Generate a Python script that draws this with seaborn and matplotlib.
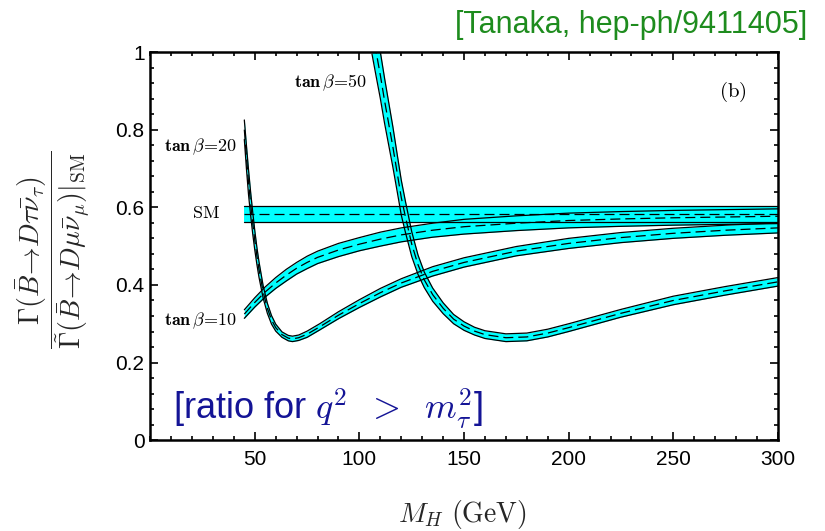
import matplotlib
matplotlib.use("Agg")
import matplotlib.pyplot as plt
from matplotlib.ticker import MultipleLocator, FixedLocator, FixedFormatter
import seaborn as sns
import pandas as pd

# Standard Model ratio (flat band)
m_sm = [45, 300]
r_sm = [0.583, 0.583]
hw_sm = [0.021, 0.021]

# tan(beta) = 10
m_10 = [45, 50, 55, 60, 65, 70, 75, 80, 90, 100, 110, 120, 135, 150, 175,
        200, 225, 250, 275, 300]
r_10 = [0.325, 0.355, 0.382, 0.405, 0.425, 0.443, 0.458, 0.471, 0.49, 0.505,
        0.518, 0.529, 0.541, 0.55, 0.559, 0.566, 0.57, 0.573, 0.575, 0.577]
hw_10 = [0.011, 0.012, 0.013, 0.014, 0.015, 0.015, 0.016, 0.016, 0.017, 0.017,
         0.018, 0.018, 0.018, 0.019, 0.019, 0.019, 0.019, 0.019, 0.019, 0.019]

# tan(beta) = 20
m_20 = [45, 46, 47, 48, 49, 50, 51, 52, 54, 56, 58, 60, 63, 66, 68, 71, 75,
        81, 90, 100, 110, 120, 135, 150, 175, 200, 225, 250, 275, 300]
r_20 = [0.80, 0.73, 0.665, 0.61, 0.56, 0.515, 0.475, 0.44, 0.382, 0.34,
        0.31, 0.29, 0.272, 0.263, 0.261, 0.264, 0.273, 0.292, 0.322, 0.352,
        0.38, 0.405, 0.435, 0.458, 0.487, 0.507, 0.522, 0.533, 0.541, 0.547]
hw_20 = [0.025, 0.03, 0.032, 0.03, 0.028, 0.025, 0.022, 0.02, 0.016, 0.013,
         0.011, 0.009, 0.007, 0.007, 0.007, 0.007, 0.008, 0.008, 0.009, 0.01,
         0.011, 0.011, 0.012, 0.012, 0.012, 0.013, 0.013, 0.013, 0.013, 0.013]

# tan(beta) = 50
m_50 = [106, 108, 110, 112, 114, 116, 118, 120, 122, 125, 128, 131, 135, 140,
        145, 150, 155, 160, 170, 180, 190, 200, 225, 250, 275, 300]
r_50 = [1.06, 1.0, 0.94, 0.875, 0.815, 0.755, 0.69, 0.625, 0.575, 0.505,
        0.452, 0.413, 0.375, 0.34, 0.312, 0.294, 0.281, 0.272, 0.264, 0.266,
        0.276, 0.29, 0.327, 0.36, 0.385, 0.408]
hw_50 = [0.065, 0.063, 0.06, 0.058, 0.055, 0.052, 0.048, 0.045, 0.04, 0.032,
         0.025, 0.02, 0.017, 0.014, 0.012, 0.011, 0.01, 0.01, 0.01, 0.01,
         0.01, 0.01, 0.01, 0.011, 0.011, 0.011]

y_ticks = [0, 0.2, 0.4, 0.6, 0.8, 1.0]
y_tick_labels = ["0", "0.2", "0.4", "0.6", "0.8", "1"]
x_ticks = [50, 100, 150, 200, 250, 300]
x_tick_labels = ["50", "100", "150", "200", "250", "300"]

sns.set_theme(style="ticks")
plt.rcParams["font.family"] = ["Liberation Sans", "DejaVu Sans"]
plt.rcParams["mathtext.fontset"] = "cm"

fig = plt.figure(figsize=(8.25, 5.31), dpi=100)
ax = fig.add_axes([0.182, 0.171, 0.761, 0.731])

curves = [
    (m_sm, r_sm, hw_sm),
    (m_10, r_10, hw_10),
    (m_20, r_20, hw_20),
    (m_50, r_50, hw_50),
]

frames = []
for m, r, hw in curves:
    df = pd.DataFrame({"M": m, "r": r, "hw": hw})
    df["lo"] = df["r"] - df["hw"]
    df["hi"] = df["r"] + df["hw"]
    frames.append(df)

# cyan uncertainty bands first, so every edge line stays visible on top
for df in frames:
    ax.fill_between(df["M"], df["lo"], df["hi"], color="#00ffff", lw=0,
                    zorder=1)

for df in frames:
    sns.lineplot(data=df, x="M", y="lo", ax=ax, color="black", lw=0.9,
                 zorder=3)
    sns.lineplot(data=df, x="M", y="hi", ax=ax, color="black", lw=0.9,
                 zorder=3)
    sns.lineplot(data=df, x="M", y="r", ax=ax, color="black", lw=0.9,
                 linestyle=(0, (8, 4)), zorder=3)

ax.set_xlim(0, 300)
ax.set_ylim(0, 1)
ax.xaxis.set_major_locator(FixedLocator(x_ticks))
ax.xaxis.set_major_formatter(FixedFormatter(x_tick_labels))
ax.xaxis.set_minor_locator(MultipleLocator(10))
ax.yaxis.set_major_locator(FixedLocator(y_ticks))
ax.yaxis.set_major_formatter(FixedFormatter(y_tick_labels))
ax.yaxis.set_minor_locator(MultipleLocator(0.04))
ax.tick_params(which="both", direction="in", top=True, right=True,
               colors="black", labelsize=15, width=1.2)
ax.tick_params(which="major", length=6)
ax.tick_params(which="minor", length=3)
ax.tick_params(axis="x", which="major", pad=7)
ax.tick_params(axis="y", which="major", pad=4)
for sp in ax.spines.values():
    sp.set_visible(True)
    sp.set_linewidth(1.8)
    sp.set_color("black")

ax.set_xlabel(r"$M_H\ (\mathrm{GeV})$", fontsize=20)
ax.xaxis.set_label_coords(0.497, -0.15)
ax.set_ylabel(r"$\dfrac{\Gamma(\bar{B}\!\to\! D\tau\bar{\nu}_\tau)}"
              r"{\tilde{\Gamma}(\bar{B}\!\to\! D\mu\bar{\nu}_\mu)|_{\mathrm{SM}}}$",
              fontsize=20)
ax.yaxis.set_label_coords(-0.092, 0.49)

lab = dict(fontsize=13, color="black", va="center")
ax.text(103.7, 0.92, r"$\mathbf{tan}\,\beta\!=\!50$", ha="right", **lab)
ax.text(41.6, 0.755, r"$\mathbf{tan}\,\beta\!=\!20$", ha="right", **lab)
ax.text(26.5, 0.585, r"$\mathrm{SM}$", ha="center", **lab)
ax.text(41.6, 0.309, r"$\mathbf{tan}\,\beta\!=\!10$", ha="right", **lab)
ax.text(278.5, 0.897, r"$(\mathrm{b})$", ha="center", va="center",
        fontsize=15, color="black")

ax.text(0.037, 0.054, r"[ratio for $q^2\;\;>\;\;m_\tau^2$]",
        transform=ax.transAxes, fontsize=26, color="#141496",
        ha="left", va="baseline")
fig.text(0.978, 0.938, "[Tanaka, hep-ph/9411405]", fontsize=22,
         color="#1e8c1e", ha="right", va="baseline")

fig.savefig("out.png", dpi=100)
